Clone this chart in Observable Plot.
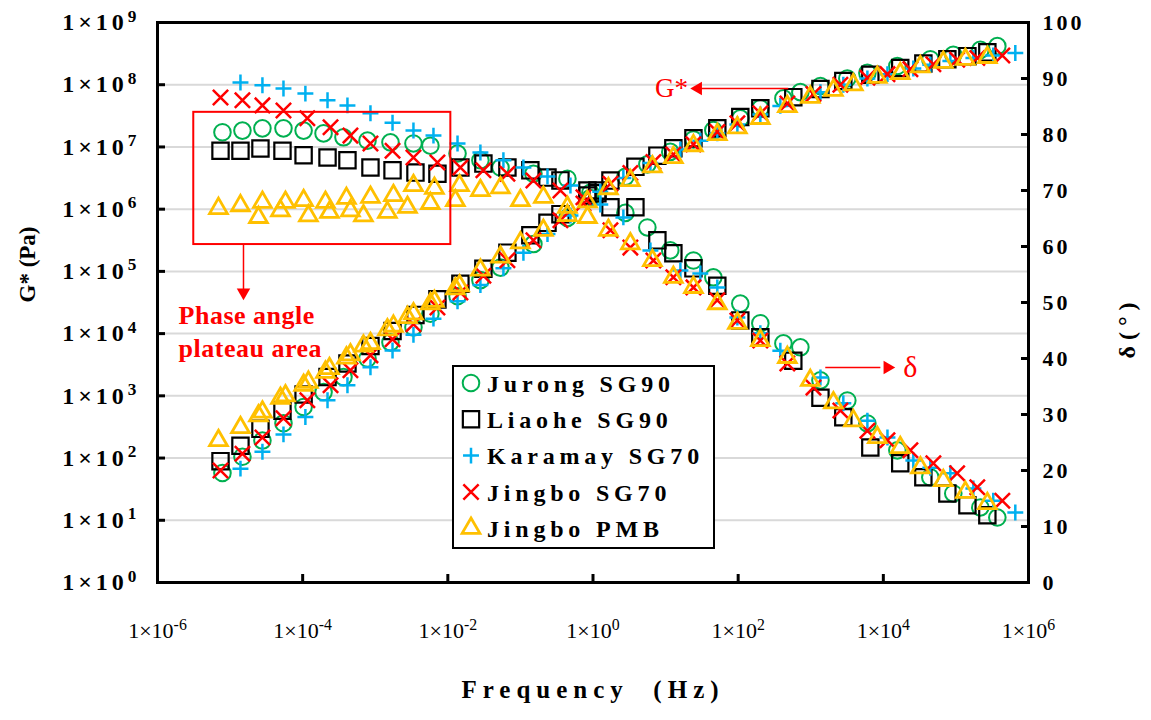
<!DOCTYPE html>
<html>
<head>
<meta charset="utf-8">
<script src="https://cdn.jsdelivr.net/npm/d3@7"></script>
<script src="https://cdn.jsdelivr.net/npm/@observablehq/plot@0.6"></script>
<style>
  body { margin: 0; background: #fff; }
  #wrap { position: relative; width: 1151px; height: 720px; overflow: hidden; }
</style>
</head>
<body>
<div id="wrap"></div>
<script>
// ---------------- DATA ----------------
const seriesNames = ["Jurong SG90", "Liaohe SG90", "Karamay SG70", "Jingbo SG70", "Jingbo PMB"];

// Jurong SG90
const jurongFreq = [7.85e-6, 1.48e-5, 2.79e-5, 5.44e-5, 1.03e-4, 1.94e-4, 3.65e-4, 7.82e-4, 1.62e-3, 3.36e-3, 5.75e-3, 1.36e-2, 2.81e-2, 5.31e-2, 0.151, 0.444, 0.920, 2.79, 5.61, 11.6, 24.2, 45.5, 107, 202, 420, 719, 1360, 3190, 6030, 15600, 44400, 92000, 217000, 372000];
const jurongG = [57.5, 105, 191, 363, 661, 1150, 2000, 3980, 7240, 1.26e4, 2.09e4, 3.98e4, 7.24e4, 1.15e5, 2.75e5, 7.24e5, 1.51e6, 3.31e6, 5.25e6, 8.32e6, 1.32e7, 1.86e7, 2.88e7, 4.17e7, 6.03e7, 7.59e7, 9.55e7, 1.26e8, 1.55e8, 2.00e8, 2.57e8, 3.02e8, 3.63e8, 4.17e8];
const jurongDelta = [80.4, 80.7, 81.1, 81.1, 80.7, 80.2, 79.5, 78.9, 78.6, 78.4, 78.0, 76.6, 75.4, 74.1, 73.0, 72.1, 69.6, 66.0, 63.4, 59.3, 57.5, 54.5, 49.8, 46.3, 42.7, 42.0, 36.1, 32.5, 28.4, 23.6, 18.8, 15.9, 13.4, 11.6];

// Liaohe SG90
const liaoheFreq = [7.38e-6, 1.39e-5, 2.62e-5, 5.27e-5, 1.03e-4, 2.20e-4, 4.14e-4, 8.59e-4, 1.73e-3, 3.58e-3, 7.19e-3, 1.49e-2, 3.09e-2, 6.62e-2, 0.137, 0.236, 0.356, 0.838, 1.15, 1.74, 3.84, 7.71, 12.8, 24.2, 51.6, 107, 202, 575, 1360, 2810, 6620, 17100, 35600, 76200, 144000, 271000];
const liaoheG = [89.1, 158, 295, 575, 1050, 2000, 3310, 6310, 1.10e4, 2.00e4, 3.55e4, 6.31e4, 1.10e5, 2.00e5, 3.80e5, 6.03e5, 8.32e5, 1.66e6, 2.00e6, 2.88e6, 4.79e6, 7.24e6, 9.55e6, 1.38e7, 2.00e7, 3.02e7, 4.17e7, 6.31e7, 8.51e7, 1.15e8, 1.45e8, 1.86e8, 2.19e8, 2.57e8, 2.88e8, 3.31e8];
const liaoheDelta = [77.1, 77.1, 77.5, 77.1, 76.3, 75.9, 75.4, 74.1, 73.6, 73.2, 73.0, 74.1, 74.8, 74.1, 73.6, 72.3, 71.8, 70.0, 69.5, 67.0, 67.0, 61.1, 58.8, 56.1, 53.0, 46.8, 43.8, 39.6, 33.0, 29.5, 24.1, 21.3, 18.8, 15.9, 13.8, 12.0];

// Karamay SG70
const karamayFreq = [1.39e-5, 2.79e-5, 5.44e-5, 1.09e-4, 2.20e-4, 4.14e-4, 8.59e-4, 1.73e-3, 3.36e-3, 6.34e-3, 1.36e-2, 2.81e-2, 5.83e-2, 0.110, 0.236, 0.489, 1.26, 2.62, 6.18, 16.0, 30.1, 51.6, 97.5, 202, 381, 1360, 2810, 6030, 11400, 25900, 44400, 83800, 174000, 327000, 658000];
const karamayG = [67.6, 126, 240, 457, 851, 1480, 2880, 5370, 9550, 1.74e4, 3.31e4, 6.03e4, 1.12e5, 2.00e5, 3.98e5, 7.94e5, 1.91e6, 3.16e6, 5.50e6, 9.12e6, 1.26e7, 1.66e7, 2.29e7, 3.31e7, 4.57e7, 7.59e7, 1.00e8, 1.26e8, 1.48e8, 1.82e8, 2.09e8, 2.40e8, 2.69e8, 2.95e8, 3.24e8];
const karamayDelta = [89.3, 88.8, 88.2, 87.3, 86.1, 85.2, 83.8, 82.1, 80.7, 79.8, 78.4, 76.8, 75.4, 74.1, 72.5, 70.9, 67.5, 65.2, 59.3, 55.7, 55.2, 52.7, 47.3, 44.5, 41.4, 36.6, 32.0, 28.9, 25.9, 21.8, 20.5, 19.5, 16.8, 14.6, 12.5];

// Jingbo SG70
const jingboFreq = [7.38e-6, 1.48e-5, 2.79e-5, 5.44e-5, 1.16e-4, 2.42e-4, 4.55e-4, 8.59e-4, 1.73e-3, 3.36e-3, 7.19e-3, 1.49e-2, 3.09e-2, 6.62e-2, 0.151, 0.356, 0.738, 1.74, 3.27, 6.79, 12.8, 24.2, 51.6, 97.5, 202, 476, 1090, 2560, 6030, 11400, 23600, 48900, 104000, 197000, 436000];
const jingboG = [63.1, 117, 214, 437, 851, 1480, 2570, 4470, 8130, 1.41e4, 2.63e4, 4.57e4, 8.51e4, 1.51e5, 3.16e5, 6.61e5, 1.23e6, 2.57e6, 3.80e6, 5.75e6, 7.59e6, 1.10e7, 1.74e7, 2.40e7, 3.47e7, 5.01e7, 7.08e7, 1.00e8, 1.29e8, 1.48e8, 1.78e8, 2.14e8, 2.51e8, 2.69e8, 2.95e8];
const jingboDelta = [86.6, 86.1, 85.2, 84.3, 82.9, 81.3, 79.8, 78.4, 77.1, 75.9, 75.0, 74.1, 73.6, 73.0, 71.8, 70.0, 68.8, 62.9, 59.8, 57.5, 54.5, 52.7, 50.4, 46.8, 43.2, 39.1, 34.8, 30.7, 27.1, 25.4, 23.6, 21.3, 19.5, 17.0, 14.6];

// Jingbo PMB
const pmbFreq = [6.92e-6, 1.39e-5, 2.46e-5, 2.79e-5, 4.94e-5, 5.79e-5, 1.03e-4, 1.20e-4, 2.06e-4, 2.34e-4, 4.01e-4, 4.55e-4, 6.87e-4, 8.59e-4, 1.47e-3, 1.78e-3, 2.78e-3, 3.36e-3, 5.75e-3, 6.53e-3, 1.27e-2, 1.45e-2, 2.81e-2, 5.31e-2, 0.100, 0.207, 0.444, 0.838, 1.63, 3.27, 6.58, 12.8, 24.2, 51.6, 97.5, 202, 476, 986, 2050, 3860, 8260, 17100, 32400, 67000, 135000, 271000];
const pmbG = [191, 309, 479, 550, 912, 1000, 1480, 1660, 2400, 2750, 4070, 4570, 6310, 6920, 1.15e4, 1.32e4, 1.82e4, 2.09e4, 3.02e4, 3.31e4, 5.25e4, 5.89e4, 1.05e5, 1.70e5, 2.88e5, 4.57e5, 7.94e5, 1.32e6, 2.14e6, 2.88e6, 4.79e6, 6.76e6, 1.05e7, 1.58e7, 2.04e7, 2.88e7, 4.47e7, 6.31e7, 8.13e7, 1.00e8, 1.32e8, 1.51e8, 1.95e8, 2.29e8, 2.57e8, 2.75e8];
const pmbDelta = [66.8, 67.3, 65.2, 67.9, 66.4, 67.9, 68.2, 65.5, 67.9, 66.1, 68.6, 66.4, 65.5, 68.8, 66.1, 69.1, 67.0, 70.9, 67.7, 70.4, 68.2, 70.9, 70.0, 70.5, 68.2, 68.8, 67.0, 65.2, 62.9, 60.5, 57.5, 54.5, 52.7, 49.8, 46.3, 43.2, 40.2, 36.1, 32.1, 28.9, 25.9, 24.1, 20.5, 18.2, 16.1, 14.1];

// Axis ticks
const gTicks = [1, 1e1, 1e2, 1e3, 1e4, 1e5, 1e6, 1e7, 1e8, 1e9];
const gridTicks = [1e1, 1e2, 1e3, 1e4, 1e5, 1e6, 1e7, 1e8];
const freqTicks = [1e-6, 1e-4, 1e-2, 1e0, 1e2, 1e4, 1e6];
const deltaTicks = [0, 10, 20, 30, 40, 50, 60, 70, 80, 90, 100];

// Annotation anchors (in data units)
const plateauBox = [{x1: 3.16e-6, x2: 1.1e-2, y1: 2.7e5, y2: 3.6e7}];
const arrowLines = [
  {x1: 1.53e-5, y1: 2.7e5, x2: 1.53e-5, y2: 5.2e4},
  {x1: 490, y1: 8.7e7, x2: 30, y2: 8.7e7},
  {x1: 1585, y1: 2860, x2: 9100, y2: 2860}
];
const arrowHeads = [
  {x: 1.53e-5, y: 4.6e4, rotate: 180},
  {x: 28, y: 8.7e7, rotate: -90},
  {x: 11400, y: 2860, rotate: 90}
];
const plateauText = [
  {text: "Phase angle", x: 1.95e-6, y: 1.95e4},
  {text: "plateau area", x: 1.95e-6, y: 5.8e3}
];
const curveLabels = [
  {text: "G*", x: 20.4, y: 8.7e7, anchor: "end"},
  {text: "δ", x: 18800, y: 2860, anchor: "start"}
];

// ---------------- STYLE ----------------
const SERIF = "'Liberation Serif', 'Times New Roman', serif";
const RED = "#FF0000";
const seriesStyle = [
  {symbol: "circle",   color: "#00B050", r: 8.3, sw: 2.0},
  {symbol: "square",   color: "#000000", r: 9.2, sw: 2.2},
  {symbol: "plus",     color: "#00B0F0", r: 5.2, sw: 2.5},
  {symbol: "times",    color: "#FF0000", r: 7.0, sw: 2.5},
  {symbol: "triangle", color: "#FFC000", r: 6.6, sw: 2.8}
];

const toY = d => Math.pow(10, d * 0.09); // δ (0–100) mapped onto the G* log axis (1–1e9)

const raw = [
  [jurongFreq, jurongG, jurongDelta],
  [liaoheFreq, liaoheG, liaoheDelta],
  [karamayFreq, karamayG, karamayDelta],
  [jingboFreq, jingboG, jingboDelta],
  [pmbFreq, pmbG, pmbDelta]
];
const seriesRows = raw.map(([f, g, d], i) => f.map((fv, j) => ({series: seriesNames[i], f: fv, g: g[j], delta: d[j]})));

const dataMarks = [];
seriesRows.forEach((rows, i) => {
  const s = seriesStyle[i];
  const common = {symbol: s.symbol, stroke: s.color, fill: "none", r: s.r, strokeWidth: s.sw};
  dataMarks.push(Plot.dot(rows, {x: "f", y: "g", ...common}));
  dataMarks.push(Plot.dot(rows, {x: "f", y: d => toY(d.delta), ...common}));
});

const supFormat = v => "1×10|" + Math.round(Math.log10(v));

const chart = Plot.plot({
  width: 1151,
  height: 720,
  marginLeft: 157,
  marginRight: 123,
  marginTop: 22,
  marginBottom: 138,
  x: {type: "log", domain: [1e-6, 1e6]},
  y: {type: "log", domain: [1, 1e9]},
  style: {background: "#fff", overflow: "visible"},
  marks: [
    Plot.ruleY(gridTicks, {stroke: "#d9d9d9", strokeWidth: 2}),
    ...dataMarks,
    Plot.rect(plateauBox, {x1: "x1", x2: "x2", y1: "y1", y2: "y2", fill: "none", stroke: RED, strokeWidth: 2}),
    Plot.link(arrowLines, {x1: "x1", y1: "y1", x2: "x2", y2: "y2", stroke: RED, strokeWidth: 1.5}),
    Plot.dot(arrowHeads, {x: "x", y: "y", rotate: "rotate", symbol: "triangle", r: 5, fill: RED, stroke: "none"}),
    Plot.text(plateauText, {x: "x", y: "y", text: "text", textAnchor: "start", fill: RED, fontSize: 26, fontWeight: "bold", fontFamily: SERIF}),
    Plot.text(curveLabels.filter(d => d.anchor === "end"), {x: "x", y: "y", text: "text", textAnchor: "end", fill: RED, fontSize: 27, fontFamily: SERIF}),
    Plot.text(curveLabels.filter(d => d.anchor === "start"), {x: "x", y: "y", text: "text", textAnchor: "start", fill: RED, fontSize: 30, fontFamily: SERIF}),
    Plot.frame({stroke: "#000", strokeWidth: 3}),
    Plot.axisY(gTicks, {anchor: "left", tickSize: -8, tickPadding: 25, strokeWidth: 3, tickFormat: supFormat, fontSize: 24, fontWeight: "bold", fontFamily: SERIF, label: null}),
    Plot.axisY(deltaTicks.map(toY), {anchor: "right", tickSize: -8, tickPadding: 22, strokeWidth: 3, tickFormat: () => "", label: null}),
    Plot.text(deltaTicks, {y: d => toY(d), text: d => String(d), frameAnchor: "right", dx: 14, textAnchor: "start", fontSize: 22, fontWeight: "bold", fontFamily: SERIF, fill: "#000"}),
    Plot.axisX(freqTicks, {anchor: "bottom", tickSize: -8, tickPadding: 48, strokeWidth: 3, tickFormat: supFormat, fontSize: 22, fontFamily: SERIF, label: null}),
    Plot.text(["G* (Pa)"], {frameAnchor: "left", dx: -130, rotate: -90, fontSize: 23, fontWeight: "bold", fontFamily: SERIF, fill: "#000"}),
    Plot.text(["δ ( ° )"], {frameAnchor: "right", dx: 99, rotate: -90, fontSize: 24, fontWeight: "bold", fontFamily: SERIF, fill: "#000"}),
    Plot.text(["Frequency  (Hz)"], {frameAnchor: "bottom", dy: 115, fontSize: 25, fontWeight: "bold", fontFamily: SERIF, fill: "#000"})
  ]
});

// superscripts for exponent tick labels
const NS = "http://www.w3.org/2000/svg";
chart.querySelectorAll("text").forEach(t => {
  const s = t.textContent;
  if (s.includes("|") && t.children.length === 0) {
    const [base, exp] = s.split("|");
    t.textContent = "";
    const a = document.createElementNS(NS, "tspan");
    a.textContent = base;
    const b = document.createElementNS(NS, "tspan");
    b.textContent = exp;
    b.setAttribute("dy", "-0.5em");
    b.setAttribute("font-size", "0.72em");
    t.append(a, b);
  }
});
// letter spacing applied per text content
chart.querySelectorAll("text").forEach(t => {
  const s = t.textContent;
  let ls = null;
  if (t.closest('g[aria-label="y-axis tick label"]')) ls = "4px";
  else if (/^\d+$/.test(s)) ls = "3px";
  else if (s.startsWith("Frequency")) ls = "6px";
  else if (s === "Phase angle" || s === "plateau area") ls = "0.5px";
  if (ls) t.style.letterSpacing = ls;
});

const wrap = document.getElementById("wrap");
wrap.appendChild(chart);

// ---------------- LEGEND ----------------
const lw = 263, lh = 184;
const leg = d3.create("svg")
  .attr("width", lw).attr("height", lh)
  .style("position", "absolute").style("left", "452px").style("top", "365px");
leg.append("rect").attr("x", 1).attr("y", 1).attr("width", lw - 2).attr("height", lh - 2)
  .attr("fill", "#fff").attr("stroke", "#000").attr("stroke-width", 2);
const symMap = {circle: d3.symbolCircle, square: d3.symbolSquare, plus: d3.symbolPlus, times: d3.symbolTimes, triangle: d3.symbolTriangle};
seriesNames.forEach((name, i) => {
  const s = seriesStyle[i];
  const cy = 18 + i * 36.3;
  leg.append("path")
    .attr("d", d3.symbol(symMap[s.symbol], Math.PI * s.r * s.r)())
    .attr("transform", `translate(19,${cy})`)
    .attr("fill", "none").attr("stroke", s.color).attr("stroke-width", s.sw);
  leg.append("text")
    .attr("x", 35).attr("y", cy).attr("dy", "0.36em")
    .attr("font-family", SERIF).attr("font-size", 24).attr("font-weight", "bold")
    .style("letter-spacing", "4.8px")
    .text(name);
});
wrap.appendChild(leg.node());
</script>
</body>
</html>
